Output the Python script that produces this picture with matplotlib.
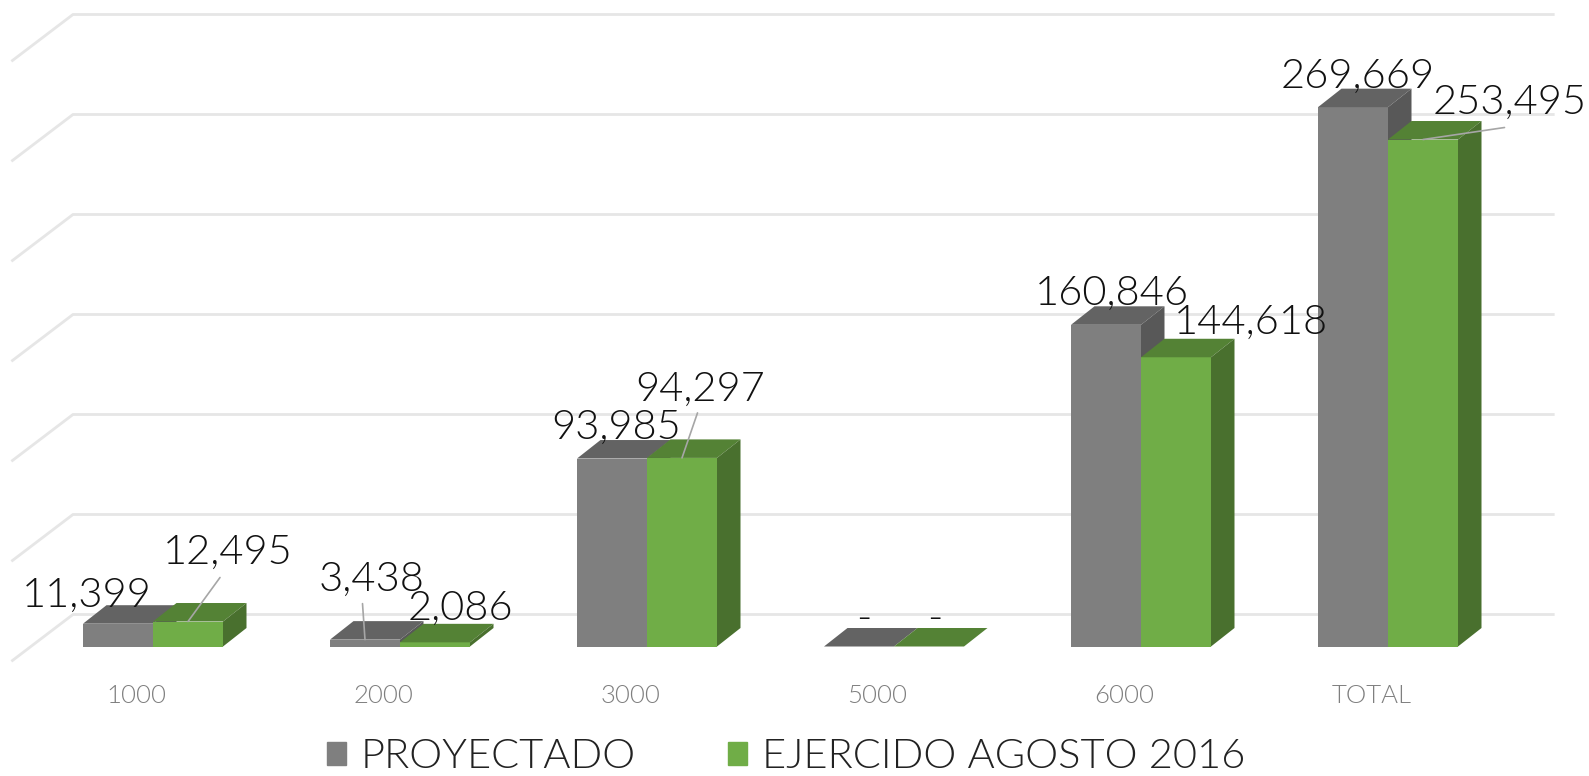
import numpy as np
import matplotlib
matplotlib.use('Agg')
import matplotlib.pyplot as plt
from matplotlib.patches import Patch

plt.rcParams['font.family'] = ['Lato', 'DejaVu Sans']
plt.rcParams['font.weight'] = 300

categories = ['1000', '2000', '3000', '5000', '6000', 'TOTAL']
proyectado = [11399, 3438, 93985, 0, 160846, 269669]
ejercido = [12495, 2086, 94297, 0, 144618, 253495]
grid_values = [0, 50000, 100000, 150000, 200000, 250000, 300000]
series_names = ['PROYECTADO', 'EJERCIDO AGOSTO 2016']

W, H = 1589, 776
PX_X = 247.0      # pixels per category
PX_Y = 0.002      # pixels per unit
X0 = 153.0        # pixel of category 0
Y0 = 646.5        # pixel of value 0
BOTTOM = 665.0    # pixel of axes bottom
BAR_W = 70 / PX_X
DX = 23.5 / PX_X  # bar depth
DY = 18.5 / PX_Y


def draw_bar(ax, x, v, front, top, side):
    ax.bar(x, v, width=BAR_W, color=front, zorder=3)
    l, r = x - BAR_W / 2, x + BAR_W / 2
    ax.fill([l, r, r + DX, l + DX], [v, v, v + DY, v + DY], color=top, lw=0, zorder=3)
    ax.fill([r, r + DX, r + DX, r], [0, DY, v + DY, v], color=side, lw=0, zorder=3)


def label(ax, x, v, txt, off, leader=None):
    ax.annotate(txt, (x, v), xytext=off, textcoords='offset pixels', ha='center',
                va='center', fontsize=30, color='#111111', zorder=6)
    if leader:
        ax.annotate('', (x, v), xytext=leader, textcoords='offset pixels', zorder=5,
                    arrowprops=dict(arrowstyle='-', color='#a6a6a6', lw=1.2,
                                    shrinkA=0, shrinkB=0))


fig = plt.figure(figsize=(W / 100, H / 100), dpi=100)
ax = fig.add_axes([0, (H - BOTTOM) / H, 1, BOTTOM / H])
ax.set_xlim(-X0 / PX_X, (W - X0) / PX_X)
ax.set_ylim((Y0 - BOTTOM) / PX_Y, Y0 / PX_Y)
for s in ax.spines.values():
    s.set_visible(False)
ax.set_yticks([])

# back wall + side wall gridlines
for g in grid_values:
    ax.plot([-0.569, -0.324, 5.669], [g - 7000, g + 16000, g + 16000],
            color='#e6e6e6', lw=2.0, zorder=1, solid_joinstyle='miter')

x = np.arange(len(categories))
for i in x:
    draw_bar(ax, i - BAR_W / 2, proyectado[i], '#7f7f7f', '#636363', '#585858')
    draw_bar(ax, i + BAR_W / 2, ejercido[i], '#70ad47', '#548235', '#49702e')

grey_off = [(-31.5, 28), (6.5, 60), (4.5, 31), (4.5, 28), (5.5, 31), (4.5, 31)]
green_off = [(39.5, 69), (25.5, 34), (18.5, 69), (5.5, 28), (74.5, 35), (86.5, 37)]
grey_lead = {1: (-2.5, 36)}
green_lead = {0: (32, 44), 2: (15.5, 45), 5: (81.5, 12)}

for i in x:
    p = f'{proyectado[i]:,}' if proyectado[i] else '-'
    e = f'{ejercido[i]:,}' if ejercido[i] else '-'
    label(ax, i - BAR_W / 2, proyectado[i], p, grey_off[i], grey_lead.get(i))
    label(ax, i + BAR_W / 2, ejercido[i], e, green_off[i], green_lead.get(i))

ax.set_xticks(x - 16.5 / PX_X, categories)
ax.tick_params(axis='x', length=0, pad=14, labelsize=18.5, labelcolor='#7f7f7f')

handles = [Patch(color='#7f7f7f'), Patch(color='#70ad47')]
ax.legend(handles, series_names, loc='lower center', bbox_to_anchor=(0.4947, 0.001),
          bbox_transform=fig.transFigure, ncol=2, frameon=False, fontsize=30,
          labelcolor='#222222', handlelength=0.47, handleheight=0.47,
          handletextpad=0.35, columnspacing=2.2, borderaxespad=0, borderpad=0)

fig.savefig('out.png', dpi=100)
